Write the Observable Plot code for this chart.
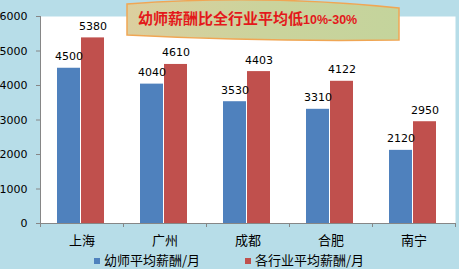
<!DOCTYPE html>
<html>
<head>
<meta charset="utf-8">
<script src="https://cdn.jsdelivr.net/npm/d3@7"></script>
<script src="https://cdn.jsdelivr.net/npm/@observablehq/plot@0.6"></script>
<style>
  html, body { margin: 0; padding: 0; background: #b7dde8; }
  #wrap { position: relative; width: 459px; height: 269px; overflow: hidden; background: #b7dde8; }
  #chart svg { display: block; }
  #banner { position: absolute; left: 124px; top: -2px; width: 278px; height: 46px; }
  #title { position: absolute; left: 138px; top: 7px; white-space: nowrap; color: #e3191b; font-weight: bold;
           font-family: "Noto Sans CJK SC", sans-serif; font-size: 15px; line-height: 22px; }
  #title .pct { font-family: "Liberation Sans", sans-serif; font-size: 12.5px; }
  #legend { position: absolute; top: 251px; left: 0; width: 459px; height: 18px; font-family: "Noto Sans CJK SC", sans-serif;
            font-size: 13px; color: #000; line-height: 18px; }
  .item { position: absolute; top: 0; white-space: nowrap; }
  .sw { display: inline-block; width: 6px; height: 6px; margin-right: 4px; vertical-align: 1px; }
</style>
</head>
<body>
<div id="wrap">
  <div id="chart"></div>
  <svg id="banner" viewBox="0 0 278 46">
    <defs>
      <linearGradient id="rib" x1="0" x2="1" y1="0" y2="0">
        <stop offset="0" stop-color="#dccf9f"/>
        <stop offset="0.5" stop-color="#cbd39c"/>
        <stop offset="1" stop-color="#c4d49c"/>
      </linearGradient>
    </defs>
    <path d="M3,6 Q140,-4 275,10 L275,42 Q140,44 3,37 Z" fill="url(#rib)" stroke="#f0a654" stroke-width="1.5"/>
  </svg>
  <div id="title">幼师薪酬比全行业平均低<span class="pct">10%-30%</span></div>
  <div id="legend"></div>
</div>
<script>
const cities = ["上海", "广州", "成都", "合肥", "南宁"];
const teacherPay = [4500, 4040, 3530, 3310, 2120];
const industryPay = [5380, 4610, 4403, 4122, 2950];
const seriesNames = ["幼师平均薪酬/月", "各行业平均薪酬/月"];
const seriesColors = ["#4f81bd", "#c0504d"];
const yTicks = [0, 1000, 2000, 3000, 4000, 5000, 6000];

const teacherRows = cities.map((c, i) => ({city: c, value: teacherPay[i], series: seriesNames[0]}));
const industryRows = cities.map((c, i) => ({city: c, value: industryPay[i], series: seriesNames[1]}));

const axisColor = "#868686";
const numFont = "DejaVu Sans, sans-serif";
const cjkFont = "Noto Sans CJK SC, sans-serif";

const chart = Plot.plot({
  width: 459,
  height: 248,
  marginLeft: 40,
  marginRight: 4,
  marginTop: 16,
  marginBottom: 25,
  style: {background: "transparent", overflow: "visible"},
  x: {domain: cities, padding: 0, axis: null},
  y: {domain: [0, 6000], axis: null},
  marks: [
    Plot.frame({fill: "white", stroke: null}),
    Plot.barY(teacherRows, {x: "city", y: "value", fill: seriesColors[0], insetLeft: 17, insetRight: 43}),
    Plot.barY(industryRows, {x: "city", y: "value", fill: seriesColors[1], insetLeft: 41, insetRight: 19}),
    Plot.text(teacherRows, {x: "city", y: "value", text: d => String(d.value), dx: -13, dy: -8, lineAnchor: "bottom",
      fontSize: 11, fontFamily: numFont, fill: "black"}),
    Plot.text(industryRows, {x: "city", y: "value", text: d => String(d.value), dx: 11, dy: -8, lineAnchor: "bottom",
      fontSize: 11, fontFamily: numFont, fill: "black"}),
    Plot.frame({anchor: "left", stroke: axisColor}),
    Plot.frame({anchor: "bottom", stroke: axisColor}),
    Plot.axisY({ticks: yTicks, tickSize: 4, tickPadding: 9, tickFormat: d => String(d), fontSize: 11, label: null,
      fontFamily: numFont, stroke: axisColor, color: "black"}),
    Plot.axisX({tickSize: 0, tickPadding: 12, fontSize: 13, fontFamily: cjkFont, color: "black", label: null}),
    Plot.ruleX(cities, {x: d => d, y1: 0, y2: 0, dx: -41.5, insetBottom: -4, stroke: axisColor}),
    Plot.ruleX(cities.slice(-1), {x: d => d, y1: 0, y2: 0, dx: 41.5, insetBottom: -4, stroke: axisColor})
  ]
});
document.getElementById("chart").appendChild(chart);

const legend = document.getElementById("legend");
const legendX = [94, 245];
seriesNames.forEach((name, i) => {
  const item = document.createElement("div");
  item.className = "item";
  item.style.left = legendX[i] + "px";
  item.innerHTML = `<span class="sw" style="background:${seriesColors[i]}"></span>${name}`;
  legend.appendChild(item);
});
</script>
</body>
</html>
